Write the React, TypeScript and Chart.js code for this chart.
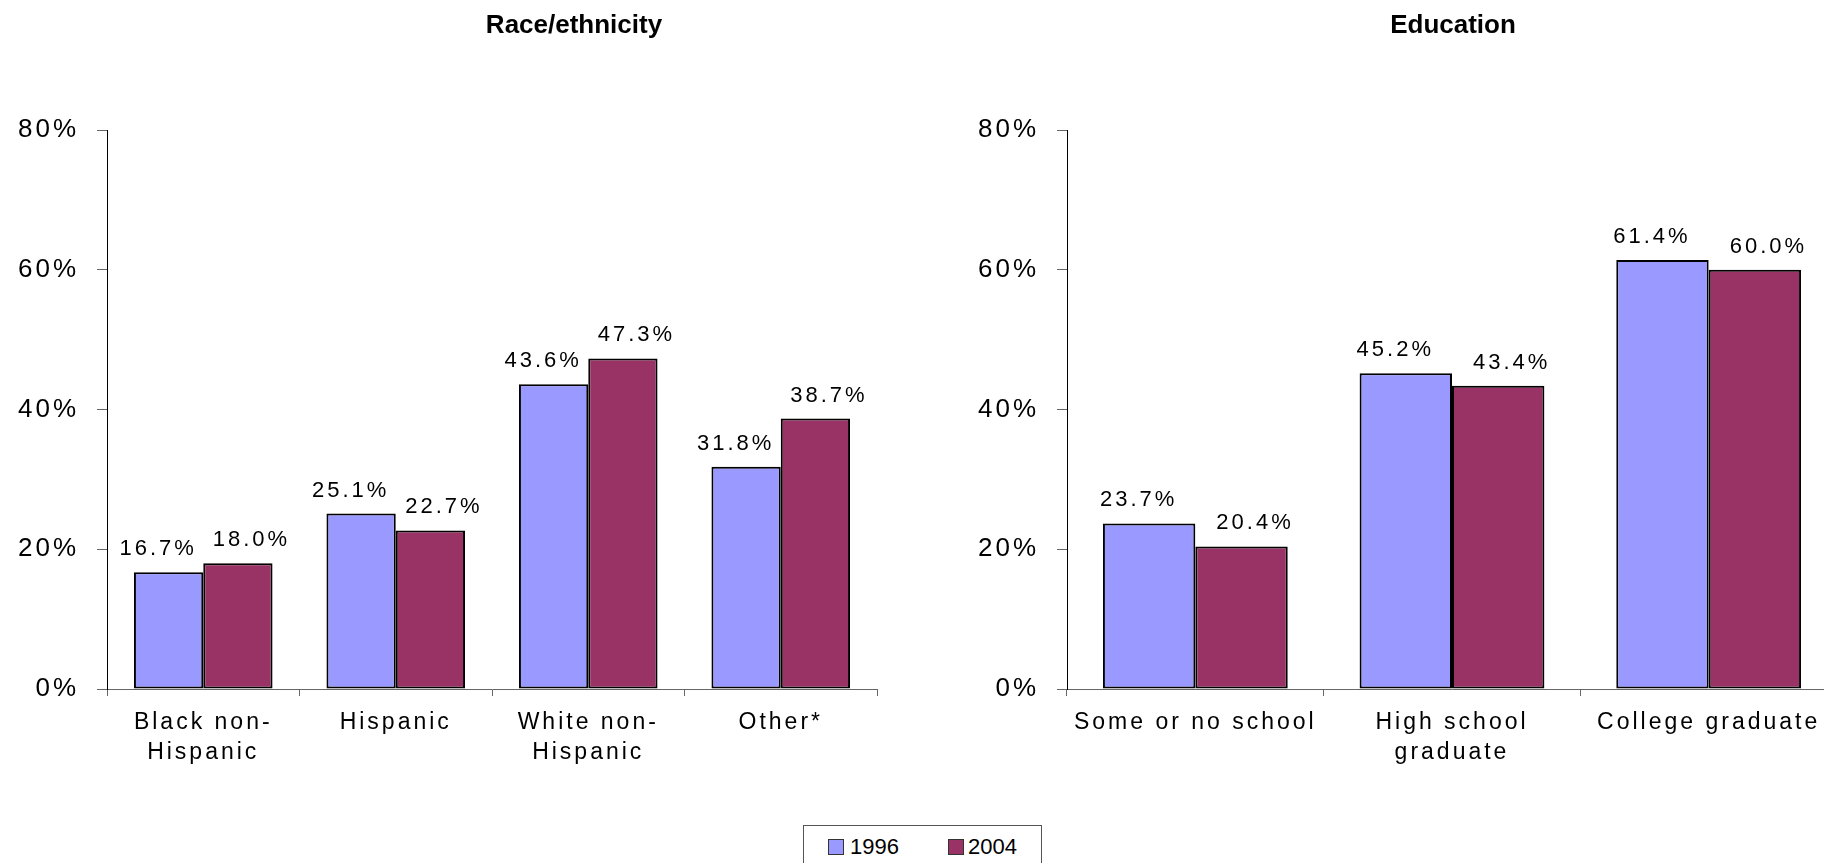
import React, { useEffect, useRef } from "react";
import { Chart, registerables } from "chart.js";

Chart.register(...registerables);

const raceCategories: (string | string[])[] = [["Black non-", "Hispanic"], "Hispanic", ["White non-", "Hispanic"], "Other*"];
const race1996 = [16.7, 25.1, 43.6, 31.8];
const race2004 = [18.0, 22.7, 47.3, 38.7];

const eduCategories: (string | string[])[] = ["Some or no school", ["High school", "graduate"], "College graduate"];
const edu1996 = [23.7, 45.2, 61.4];
const edu2004 = [20.4, 43.4, 60.0];

const seriesNames = ["1996", "2004"];
const seriesColors = ["#9999FF", "#993366"];
const yMin = 0;
const yMax = 80;
const yStep = 20;

const FONT = '"Liberation Sans", Arial, Helvetica, sans-serif';

const spacingPlugin = {
  id: "spacing",
  beforeUpdate(chart: any) {
    chart.ctx.letterSpacing = "3px";
  },
  beforeDraw(chart: any) {
    chart.ctx.letterSpacing = "3px";
  },
};

// value labels sit above each bar, nudged apart (left for the first series, right for the second)
const valueLabelPlugin = {
  id: "valueLabels",
  afterDatasetsDraw(chart: any) {
    const ctx = chart.ctx;
    ctx.save();
    ctx.font = `22px ${FONT}`;
    ctx.fillStyle = "#000";
    ctx.textAlign = "center";
    ctx.textBaseline = "alphabetic";
    ctx.letterSpacing = "3px";
    chart.data.datasets.forEach((ds: any, i: number) => {
      const meta = chart.getDatasetMeta(i);
      const nudge = i === 0 ? -12 : 12;
      meta.data.forEach((bar: any, j: number) => {
        const v = ds.data[j] as number;
        ctx.fillText(v.toFixed(1) + "%", bar.x + 1.5 + nudge, bar.y - 17);
      });
    });
    ctx.restore();
  },
};

function BarPanel({ labels, a, b, left }: { labels: (string | string[])[]; a: number[]; b: number[]; left: number }) {
  const ref = useRef<HTMLCanvasElement | null>(null);
  useEffect(() => {
    if (!ref.current) return;
    const chart = new Chart(ref.current, {
      type: "bar",
      data: {
        labels,
        datasets: [
          {
            label: seriesNames[0],
            data: a,
            backgroundColor: seriesColors[0],
            borderColor: "#000",
            borderWidth: 2,
            borderSkipped: false,
          },
          {
            label: seriesNames[1],
            data: b,
            backgroundColor: seriesColors[1],
            borderColor: "#000",
            borderWidth: 2,
            borderSkipped: false,
          },
        ],
      },
      options: {
        responsive: false,
        animation: false,
        devicePixelRatio: 1,
        layout: { padding: { left: 0, right: 23, top: 130, bottom: 0 } },
        plugins: {
          legend: { display: false },
          title: { display: false },
          tooltip: { enabled: false },
        },
        datasets: { bar: { categoryPercentage: 0.72, barPercentage: 1.0 } },
        scales: {
          x: {
            offset: true,
            grid: {
              offset: true,
              drawOnChartArea: false,
              drawTicks: true,
              tickLength: 7,
              color: "#666",
            },
            border: { display: true, color: "#666", width: 1 },
            ticks: {
              color: "#000",
              font: { family: FONT, size: 23, lineHeight: 1.3 },
              padding: 12,
              maxRotation: 0,
              autoSkip: false,
            },
            afterFit(scale: any) {
              scale.height = 174;
            },
          },
          y: {
            min: yMin,
            max: yMax,
            grid: {
              drawOnChartArea: false,
              drawTicks: true,
              tickLength: 10,
              color: "#666",
            },
            border: { display: true, color: "#000", width: 1 },
            ticks: {
              stepSize: yStep,
              color: "#000",
              font: { family: FONT, size: 26 },
              padding: 18,
              callback: (v: any) => `${v}%`,
            },
            afterFit(scale: any) {
              scale.width = 107;
            },
          },
        },
      },
      plugins: [spacingPlugin, valueLabelPlugin],
    } as any);
    return () => chart.destroy();
  }, []);
  return (
    <canvas
      ref={ref}
      width={900}
      height={863}
      style={{ position: "absolute", left, top: 0, width: 900, height: 863 }}
    />
  );
}

const titleStyle: React.CSSProperties = {
  position: "absolute",
  top: 11,
  transform: "translateX(-50%)",
  fontFamily: FONT,
  fontWeight: "bold",
  fontSize: 26,
  lineHeight: "26px",
  whiteSpace: "nowrap",
  color: "#000",
};

export default function App() {
  return (
    <div
      style={{
        position: "fixed",
        left: 0,
        top: 0,
        width: 1824,
        height: 863,
        overflow: "hidden",
        background: "#fff",
      }}
    >
      <BarPanel labels={raceCategories} a={race1996} b={race2004} left={0} />
      <BarPanel labels={eduCategories} a={edu1996} b={edu2004} left={960} />
      <div style={{ ...titleStyle, left: 574 }}>Race/ethnicity</div>
      <div style={{ ...titleStyle, left: 1453 }}>Education</div>
      <div
        style={{
          position: "absolute",
          left: 803,
          top: 825,
          width: 239,
          height: 60,
          border: "1px solid #555",
          boxSizing: "border-box",
          background: "#fff",
          fontFamily: FONT,
          fontSize: 22,
          lineHeight: "22px",
          color: "#000",
        }}
      >
        {seriesNames.map((name, i) => (
          <React.Fragment key={name}>
            <span
              style={{
                position: "absolute",
                left: 24 + i * 120,
                top: 13,
                width: 16,
                height: 16,
                boxSizing: "border-box",
                border: "1px solid #333",
                background: seriesColors[i],
              }}
            />
            <span style={{ position: "absolute", left: 46 + i * 118, top: 10 }}>{name}</span>
          </React.Fragment>
        ))}
      </div>
    </div>
  );
}
